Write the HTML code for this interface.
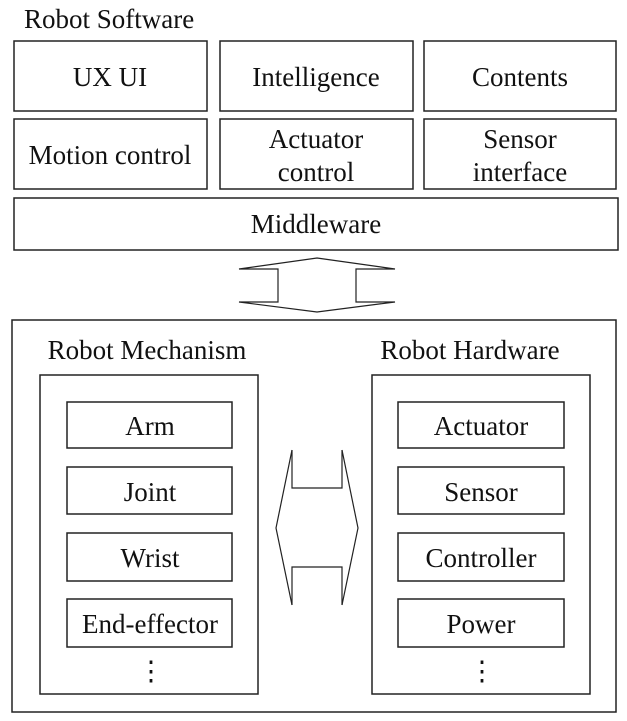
<!DOCTYPE html>
<html><head><meta charset="utf-8"><style>
html,body{margin:0;padding:0;background:#fff;}
svg{display:block;}
text{font-family:"Liberation Serif",serif;font-size:27px;fill:#111;}
</style></head><body>
<svg width="627" height="721" viewBox="0 0 627 721" xmlns="http://www.w3.org/2000/svg">
<g fill="none" stroke="#222" stroke-width="1.5">
<rect x="14" y="41" width="193" height="70"/>
<rect x="220" y="41" width="193" height="70"/>
<rect x="424" y="41" width="192" height="70"/>
<rect x="14" y="119" width="193" height="70"/>
<rect x="220" y="119" width="193" height="70"/>
<rect x="424" y="119" width="192" height="70"/>
<rect x="14" y="198" width="604" height="52"/>
<polygon points="317,258 395,269 356,269 356,302 395,302 317,312 239,302 278,302 278,269 239,269" stroke-width="1.2"/>
<rect x="12" y="320" width="604" height="392"/>
<rect x="40" y="375" width="218" height="319"/>
<rect x="372" y="375" width="218" height="319"/>
<rect x="67" y="402" width="165" height="46"/>
<rect x="67" y="467" width="165" height="47"/>
<rect x="67" y="533" width="165" height="48"/>
<rect x="67" y="599" width="165" height="48"/>
<rect x="398" y="402" width="166" height="46"/>
<rect x="398" y="467" width="166" height="47"/>
<rect x="398" y="533" width="166" height="48"/>
<rect x="398" y="599" width="166" height="48"/>
<polyline points="292,450 276,528 292,605" stroke-width="1.2"/>
<polyline points="342,450 358,528 342,605" stroke-width="1.2"/>
<polyline points="292,450 292,488 342,488 342,450" stroke-width="1.2"/>
<polyline points="292,605 292,567 342,567 342,605" stroke-width="1.2"/>
</g>
<text x="24" y="28" font-size="28">Robot Software</text>
<g text-anchor="middle">
<text x="110" y="86">UX UI</text>
<text x="316" y="86">Intelligence</text>
<text x="520" y="86">Contents</text>
<text x="110" y="164">Motion control</text>
<text x="316" y="148">Actuator</text>
<text x="316" y="181">control</text>
<text x="520" y="148">Sensor</text>
<text x="520" y="181">interface</text>
<text x="316" y="233">Middleware</text>
<text x="147" y="359">Robot Mechanism</text>
<text x="470" y="359">Robot Hardware</text>
<text x="150" y="435">Arm</text>
<text x="150" y="501">Joint</text>
<text x="150" y="567">Wrist</text>
<text x="150" y="633">End-effector</text>
<text x="481" y="435">Actuator</text>
<text x="481" y="501">Sensor</text>
<text x="481" y="567">Controller</text>
<text x="481" y="633">Power</text>
<text x="151" y="680" font-size="20">⋮</text>
<text x="482" y="680" font-size="20">⋮</text>
</g>
</svg>
</body></html>
